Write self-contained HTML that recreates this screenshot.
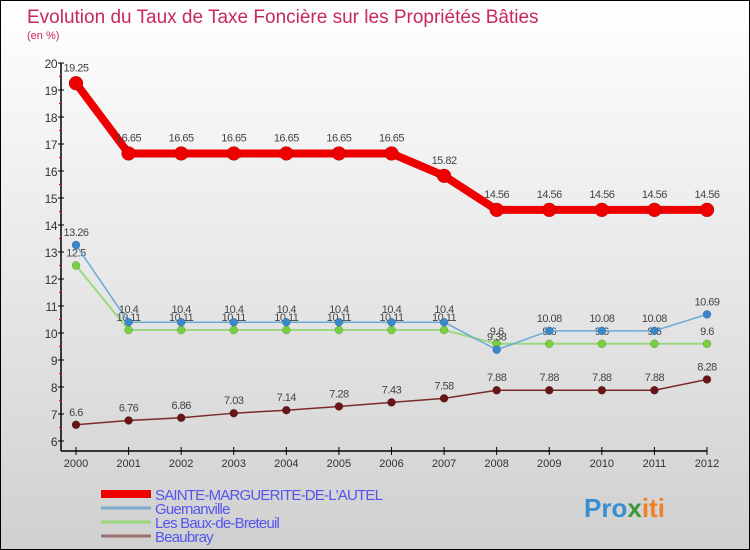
<!DOCTYPE html>
<html><head><meta charset="utf-8"><style>
body{margin:0}
#wrap{position:relative;width:748px;height:548px;border:1px solid #000;background:linear-gradient(#fff,#d0d0d0);font-family:"Liberation Sans",sans-serif;overflow:hidden}
svg text{font-family:"Liberation Sans",sans-serif}
</style></head><body>
<div id="wrap">
<svg id="chart" width="748" height="548">
<text x="26" y="22" font-size="19" fill="#c8285c">Evolution du Taux de Taxe Foncière sur les Propriétés Bâties</text>
<text x="26" y="38" font-size="11" fill="#c8285c">(en %)</text>
<g id="axes"></g><g id="series"></g><g id="legend"></g>
<text x="583" y="516" font-size="26" font-weight="bold"><tspan fill="#3a8fd0">Pro</tspan><tspan fill="#3a9a3a">x</tspan><tspan fill="#f08020">iti</tspan></text>
</svg></div>
<script>
const years=[2000,2001,2002,2003,2004,2005,2006,2007,2008,2009,2010,2011,2012];
const yTicks=[6,7,8,9,10,11,12,13,14,15,16,17,18,19,20];
const names=["SAINTE-MARGUERITE-DE-L'AUTEL","Guernanville","Les Baux-de-Breteuil","Beaubray"];
const sainte=[19.25,16.65,16.65,16.65,16.65,16.65,16.65,15.82,14.56,14.56,14.56,14.56,14.56];
const guern=[13.26,10.4,10.4,10.4,10.4,10.4,10.4,10.4,9.38,10.08,10.08,10.08,10.69];
const baux=[12.5,10.11,10.11,10.11,10.11,10.11,10.11,10.11,9.6,9.6,9.6,9.6,9.6];
const beau=[6.6,6.76,6.86,7.03,7.14,7.28,7.43,7.58,7.88,7.88,7.88,7.88,8.28];
const NS="http://www.w3.org/2000/svg";
const X=i=>75+i*(631/12);
const Y=v=>332-(v-10)*27;
function mk(tag,attrs,parent){const e=document.createElementNS(NS,tag);for(const k in attrs)e.setAttribute(k,attrs[k]);parent.appendChild(e);return e;}
const ax=document.getElementById('axes');
let l=mk('line',{x1:60,y1:Y(20),x2:60,y2:450,stroke:'#000','stroke-width':1.5},ax);


l=mk('line',{x1:60,y1:450,x2:X(12),y2:450,stroke:'#000','stroke-width':1.5},ax);


yTicks.forEach(v=>{
  mk('line',{x1:57,x2:63,y1:Y(v),y2:Y(v),stroke:'#000'},ax);
  if(v<20) mk('line',{x1:58,x2:61,y1:Y(v+0.5),y2:Y(v+0.5),stroke:'#e00'},ax);
  const t=mk('text',{x:56,y:Y(v)+5,'font-size':12,'text-anchor':'end',fill:'#333','letter-spacing':'-0.5'},ax);
  t.textContent=v;
  
  
});
years.forEach((yr,i)=>{
  mk('line',{x1:X(i),x2:X(i),y1:446,y2:454,stroke:'#000'},ax);
  const t=mk('text',{x:X(i),y:466,'font-size':11,'text-anchor':'middle',fill:'#333'},ax);
  t.textContent=yr;
  
  
});
const sg=document.getElementById('series');
function draw(data,color,w,r,fill,name){
  const g=mk('g',{},sg);
  
  
  mk('polyline',{points:data.map((v,i)=>X(i)+','+Y(v)).join(' '),fill:'none',stroke:color,'stroke-width':w,'stroke-linejoin':'round'},g);
  data.forEach((v,i)=>{
    const c=mk('circle',{cx:X(i),cy:Y(v),r:r,fill:fill,stroke:'rgba(0,0,0,0.3)','stroke-width':0.5},g);
    
    
    const t=mk('text',{x:X(i),y:Y(v)-r-5,'font-size':11,'text-anchor':'middle',fill:'#444','letter-spacing':'-0.5'},g);
    t.textContent=v;
    
    
  });
}
draw(beau,'#7a2a2a',1.5,4,'#6a1515','beaubray-series');
draw(baux,'#9ad880',2,4,'#78d040','baux-series');
draw(guern,'#6aaad8',1.5,4,'#3a88cc','guernanville-series');
draw(sainte,'#ee0000',8,7,'#ee0000','sainte-marguerite-series');
const lg=document.getElementById('legend');
const lc=['#ee0000','#7aaccc','#9ad880','#9a7070'],lw=[8,3,3,3];
names.forEach((n,i)=>{
  const y=493+i*14;
  const g=mk('g',{},lg);
  
  
  mk('line',{x1:100,x2:150,y1:y,y2:y,stroke:lc[i],'stroke-width':lw[i]},g);
  const t=mk('text',{x:154,y:y+6,'font-size':15,fill:'#5555ee','letter-spacing':'-0.8'},g);
  t.textContent=n;
});
</script></body></html>
